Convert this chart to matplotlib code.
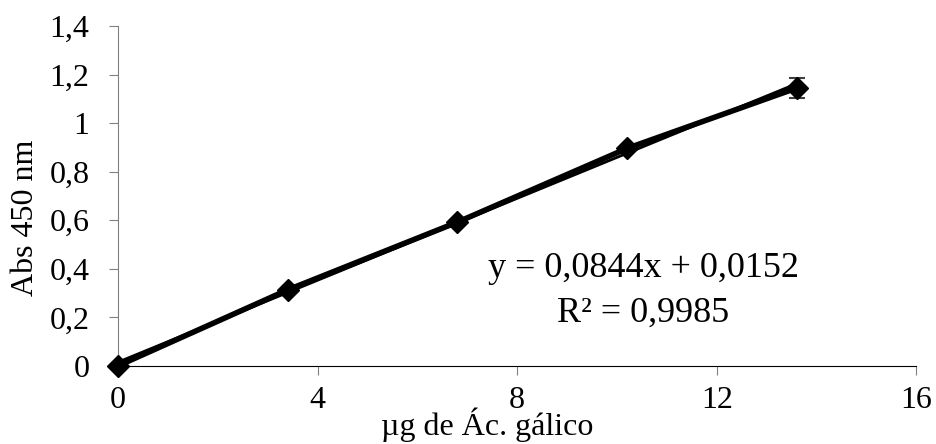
import matplotlib.pyplot as plt
import numpy as np

# Datos de la curva de calibración (ácido gálico)
x_ug = [0, 3.4, 6.8, 10.2, 13.6]
abs_450 = [0.0, 0.313, 0.592, 0.896, 1.145]
err = [0, 0, 0, 0, 0.043]

pendiente = 0.0844
intercepto = 0.0152

plt.rcParams['font.family'] = ['Liberation Serif', 'DejaVu Serif']
plt.rcParams['font.size'] = 23

fig = plt.figure(figsize=(9.36, 4.44), dpi=100)
ax = fig.add_axes([0.126, 0.176, 0.853, 0.765])

# Serie con barras de error
ax.errorbar(x_ug, abs_450, yerr=err, color='black', lw=4, marker='D', ms=11,
            ecolor='#404040', elinewidth=1.2, capsize=6, capthick=1.5,
            zorder=3, clip_on=False)

# Línea de tendencia
xt = np.array([x_ug[0], x_ug[-1]])
ax.plot(xt, pendiente * xt + intercepto, color='black', lw=2, zorder=4)

ax.text(10.53, 0.366, 'y = 0,0844x + 0,0152', ha='center', va='baseline', fontsize=26)
ax.text(10.53, 0.181, 'R² = 0,9985', ha='center', va='baseline', fontsize=26)

ax.set_xlim(0, 16)
ax.set_ylim(0, 1.4)
ax.set_xticks([0, 4, 8, 12, 16])
ax.set_yticks(np.arange(0, 1.41, 0.2))
ax.set_yticklabels(['0', '0,2', '0,4', '0,6', '0,8', '1', '1,2', '1,4'])

for s in ['top', 'right']:
    ax.spines[s].set_visible(False)
ax.spines['left'].set_color('#808080')
ax.spines['bottom'].set_color('black')
ax.tick_params(axis='y', direction='out', length=6.5, color='#808080', pad=14)
ax.tick_params(axis='x', direction='out', length=6.5, color='#808080', pad=8)

ax.set_xlabel('µg de Ác. gálico')
ax.xaxis.label.set_va('baseline')
ax.xaxis.set_label_coords(0.4625, -0.203)
ax.set_ylabel('Abs 450 nm')
ax.yaxis.set_label_coords(-0.0975, 0.435)

fig.savefig('out.png', dpi=100)
